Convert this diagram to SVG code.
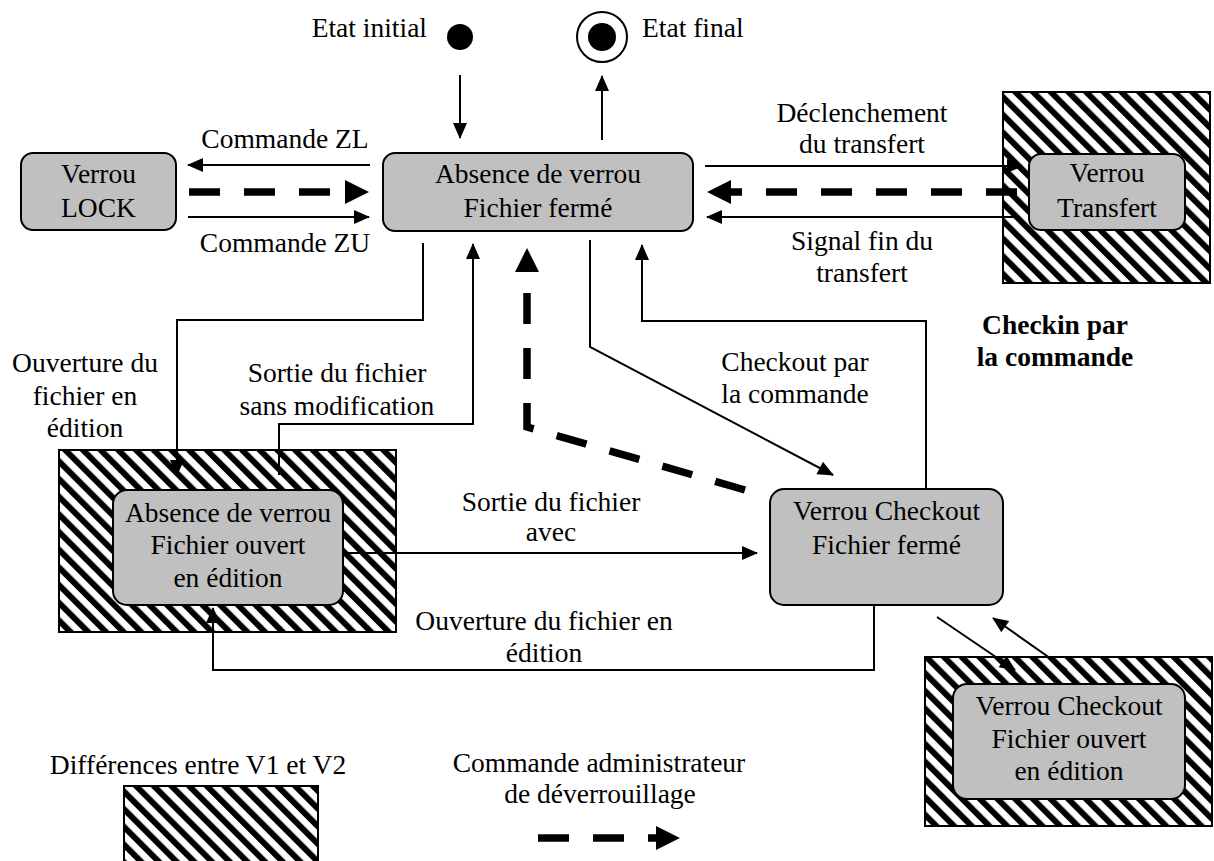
<svg xmlns="http://www.w3.org/2000/svg" width="1214" height="861" viewBox="0 0 1214 861">
<style>
text{font-family:"Liberation Serif","Times New Roman",serif;font-size:27.5px;fill:#000}
.c{text-anchor:middle}
.b{font-weight:bold}
.node{fill:#c0c0c0;stroke:#000;stroke-width:2}
.hatch{fill:url(#hatch);stroke:#000;stroke-width:2}
.ln{fill:none;stroke:#000;stroke-width:2;marker-end:url(#ah)}
.dash{fill:none;stroke:#000;stroke-width:7.5;stroke-dasharray:31 24;marker-end:url(#bh)}
</style>
<defs>
<pattern id="hatch" patternUnits="userSpaceOnUse" width="12.5" height="12.5" patternTransform="rotate(-45)">
<rect width="12.5" height="12.5" fill="#fff"/>
<rect width="6" height="12.5" fill="#000"/>
</pattern>
<marker id="ah" markerUnits="userSpaceOnUse" markerWidth="16" markerHeight="14" refX="15" refY="7" orient="auto" overflow="visible">
<path d="M0,0 L16,7 L0,14 z" fill="#000"/>
</marker>
<marker id="bh" markerUnits="userSpaceOnUse" markerWidth="24" markerHeight="24" refX="0" refY="12" orient="auto" overflow="visible">
<path d="M0,0 L24,12 L0,24 z" fill="#000"/>
</marker>
</defs>
<rect width="1214" height="861" fill="#fff"/>

<g id="etat-initial">
<circle cx="460" cy="37" r="13" fill="#000"/>
<text x="427" y="37" text-anchor="end">Etat initial</text>
</g>
<g id="etat-final">
<circle cx="602" cy="37" r="25" fill="#fff" stroke="#000" stroke-width="2"/>
<circle cx="602" cy="37" r="14" fill="#000"/>
<text x="642" y="37">Etat final</text>
</g>

<g id="verrou-lock">
<rect class="node" x="21" y="153" width="155" height="77" rx="12"/>
<text class="c" x="98.5" y="183">Verrou</text>
<text class="c" x="98.5" y="217">LOCK</text>
</g>

<g id="absence-ferme">
<rect class="node" x="383" y="153" width="310" height="78" rx="12"/>
<text class="c" x="538" y="183">Absence de verrou</text>
<text class="c" x="538" y="217">Fichier fermé</text>
</g>

<g id="verrou-transfert">
<rect class="hatch" x="1003" y="92" width="207" height="191"/>
<rect class="node" x="1029" y="154" width="156" height="76" rx="12"/>
<text class="c" x="1107" y="182">Verrou</text>
<text class="c" x="1107" y="217">Transfert</text>
</g>

<g id="absence-ouvert">
<rect class="hatch" x="59" y="450" width="337" height="182"/>
<rect class="node" x="113" y="490" width="230" height="115" rx="14"/>
<text class="c" x="228" y="522">Absence de verrou</text>
<text class="c" x="228" y="554">Fichier ouvert</text>
<text class="c" x="228" y="587">en édition</text>
</g>

<g id="checkout-ferme">
<rect class="node" x="770" y="489" width="233" height="116" rx="14"/>
<text class="c" x="886.5" y="520">Verrou Checkout</text>
<text class="c" x="886.5" y="554">Fichier fermé</text>
</g>

<g id="checkout-ouvert">
<rect class="hatch" x="925" y="657" width="287" height="169"/>
<rect class="node" x="953" y="684" width="232" height="115" rx="14"/>
<text class="c" x="1069" y="715">Verrou Checkout</text>
<text class="c" x="1069" y="748">Fichier ouvert</text>
<text class="c" x="1069" y="780">en édition</text>
</g>

<g id="connecteurs">
<path class="ln" d="M460,75 L460,138"/>
<path class="ln" d="M602,140 L602,76"/>
<path class="ln" d="M370,165 L188,165"/>
<path class="ln" d="M188,217 L369,217"/>
<path class="dash" d="M189,192 L345,192"/>
<path class="ln" d="M705,166 L1022,166"/>
<path class="dash" d="M1017,192 L731,192"/>
<path class="ln" d="M1017,217 L707,217"/>
<path class="ln" d="M423,243 V320 H177 V475"/>
<path class="ln" d="M279,475 V424 H473 V244"/>
<path class="ln" d="M590,240 V347 L833,475"/>
<path class="ln" d="M926,489 V321 H642 V245"/>
<path class="dash" d="M745,490 L527,427 V272"/>
<path class="ln" d="M343,553 H757"/>
<path class="ln" d="M874,605 V670 H213 V608"/>
<path class="ln" d="M937,617 L1015,670"/>
<path class="ln" d="M1067,670 L993,618"/>
</g>

<g id="etiquettes">
<text class="c" x="285" y="148">Commande ZL</text>
<text class="c" x="285" y="252">Commande ZU</text>
<text class="c" x="862" y="122">Déclenchement</text>
<text class="c" x="862" y="153">du transfert</text>
<text class="c" x="862" y="250">Signal fin du</text>
<text class="c" x="862" y="282">transfert</text>
<text class="c" x="85" y="372">Ouverture du</text>
<text class="c" x="85" y="405">fichier en</text>
<text class="c" x="85" y="437">édition</text>
<text class="c" x="337" y="382">Sortie du fichier</text>
<text class="c" x="337" y="415">sans modification</text>
<text class="c" x="795" y="371">Checkout par</text>
<text class="c" x="795" y="403">la commande</text>
<text class="c b" x="1055" y="334">Checkin par</text>
<text class="c b" x="1055" y="366">la commande</text>
<text class="c" x="551" y="511">Sortie du fichier</text>
<text class="c" x="551" y="541">avec</text>
<text class="c" x="544" y="630">Ouverture du fichier en</text>
<text class="c" x="544" y="662">édition</text>
</g>

<g id="legende">
<text class="c" x="198" y="774">Différences entre V1 et V2</text>
<rect class="hatch" x="124" y="786" width="194" height="85"/>
<text class="c" x="599" y="772">Commande administrateur</text>
<text class="c" x="600" y="803">de déverrouillage</text>
<path class="dash" d="M538,838 H656"/>
</g>
</svg>
